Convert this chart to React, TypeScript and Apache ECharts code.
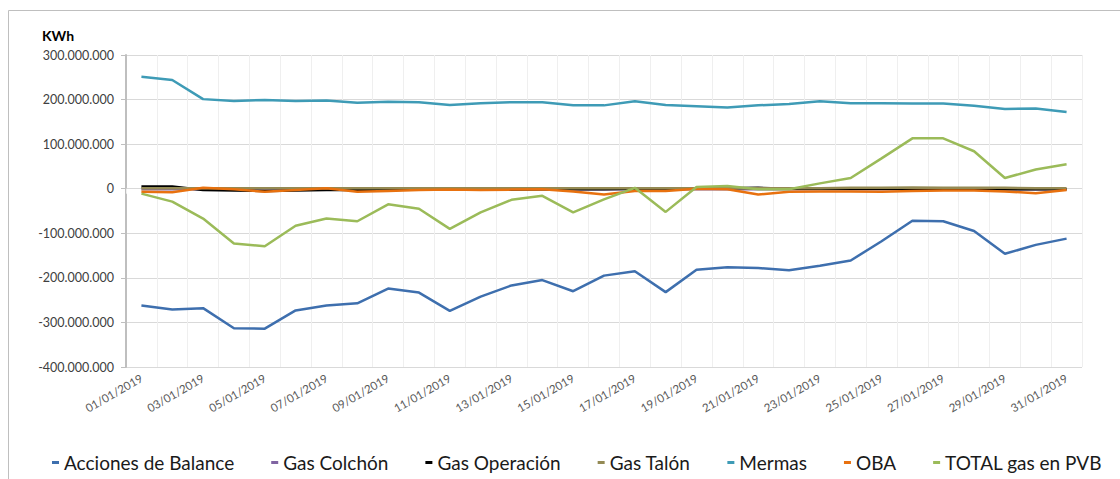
import React, { useEffect, useRef } from "react";
import * as echarts from "echarts";

const days: string[] = Array.from({ length: 31 }, (_, i) =>
  `${String(i + 1).padStart(2, "0")}/01/2019`
);

// values in millions of kWh
const accionesDeBalance = [-262, -271, -268, -313, -314, -273, -262, -257, -224, -233, -274, -242, -217, -205, -230, -195, -185, -232, -182, -176, -178, -183, -173, -161, -118, -72, -73, -95, -146, -126, -112];
const gasColchon = [-1, -1, -1, -1, -1, -1, -1, -1, -1, -1, -1, -1, -1, -1, -1, -1, -1, -1, -1, -1, -1, -1, -1, -1, -1, -1, -1, -1, -1, -1, -1];
const gasOperacion = [5, 5, -3, -4, -5, -4, -3, -3, -3, -2, -2, -2, -2, -1, -1, -1, 0, 0, 0, 1, 2, 0, 0, 0, 0, 0, 0, 0, -1, -1, -1];
const gasTalon = [1, 1, 1, 1, 1, 1, 1, 1, 1, 1, 1, 1, 1, 1, 1, 1, 1, 1, 1, 1, 1, 1, 1, 2, 2, 3, 2, 2, 2, 1, 1];
const mermas = [251, 244, 201, 197, 199, 197, 198, 193, 195, 194, 188, 192, 194, 194, 187, 187, 196, 188, 185, 182, 187, 190, 196, 192, 192, 191, 191, 186, 179, 180, 172];
const oba = [-7, -8, 2, -1, -7, -3, 1, -7, -5, -3, -2, -3, -2, -1, -6, -13, -5, -5, 0, -1, -13, -7, -6, -6, -7, -5, -4, -4, -6, -10, -3];
const totalGasPVB = [-11, -29, -67, -123, -129, -83, -67, -73, -35, -45, -90, -53, -25, -16, -53, -24, 2, -52, 4, 6, -1, -1, 12, 24, 68, 113, 113, 84, 24, 43, 55];

const seriesDefs = [
  { name: "Acciones de Balance", data: accionesDeBalance, color: "#3E6FAE" },
  { name: "Gas Colchón", data: gasColchon, color: "#8064A2" },
  { name: "Gas Operación", data: gasOperacion, color: "#000000" },
  { name: "Gas Talón", data: gasTalon, color: "#948A54" },
  { name: "Mermas", data: mermas, color: "#3E9BB6" },
  { name: "OBA", data: oba, color: "#E8710F" },
  { name: "TOTAL gas en PVB", data: totalGasPVB, color: "#9BBB59" },
];

const fmt = (v: number) =>
  String(Math.round(v)).replace(/\B(?=(\d{3})+(?!\d))/g, ".");

export default function App() {
  const ref = useRef<HTMLDivElement>(null);
  useEffect(() => {
    if (!ref.current) return;
    const chart = echarts.init(ref.current, null, { renderer: "svg" });
    const font = "Lato, 'Liberation Sans', Arial, sans-serif";
    chart.setOption({
      animation: false,
      textStyle: { fontFamily: font },
      graphic: [
        {
          type: "rect",
          shape: { x: 8.5, y: 10.5, width: 1200, height: 600 },
          style: { fill: "none", stroke: "#bfbfbf", lineWidth: 1 },
          silent: true,
        },
      ],
      title: {
        text: "KWh",
        left: 37,
        top: 23,
        textStyle: { fontSize: 14, fontWeight: "bold", color: "#000", fontFamily: font },
      },
      grid: { left: 126, right: 38, top: 55, bottom: 112, containLabel: false },
      legend: {
        left: 47,
        right: 0,
        top: 448,
        icon: "rect",
        itemWidth: 7,
        itemHeight: 3,
        itemGap: 37,
        textStyle: { fontSize: 19, color: "#1a1a1a", fontFamily: font },
        data: seriesDefs.map((s) => s.name),
      },
      xAxis: {
        type: "category",
        data: days,
        boundaryGap: true,
        axisLine: { show: false },
        axisTick: { show: true, interval: 0, length: 5, lineStyle: { color: "#efefef" } },
        axisLabel: {
          interval: 1,
          rotate: 30,
          fontSize: 11.5,
          color: "#595959",
          fontFamily: font,
          margin: 10,
        },
        splitLine: { show: true, interval: 0, lineStyle: { color: "#efefef", width: 1 } },
      },
      yAxis: {
        type: "value",
        min: -400000000,
        max: 300000000,
        interval: 100000000,
        axisLine: { show: true, lineStyle: { color: "#bfbfbf", width: 2 } },
        axisTick: { show: true, length: 5, lineStyle: { color: "#bfbfbf" } },
        axisLabel: { fontSize: 12.5, color: "#404040", fontFamily: font, margin: 12, formatter: (v: number) => fmt(v) },
        splitLine: { show: true, lineStyle: { color: "#d9d9d9", width: 1 } },
      },
      series: seriesDefs.map((s) => ({
        name: s.name,
        type: "line",
        data: s.data.map((v) => v * 1000000),
        showSymbol: false,
        symbol: "none",
        lineStyle: { color: s.color, width: 2.5 },
        itemStyle: { color: s.color },
        emphasis: { disabled: true },
      })),
    });
    return () => chart.dispose();
  }, []);
  return (
    <div
      ref={ref}
      style={{ position: "absolute", left: 0, top: 0, width: 1120, height: 479, background: "#fff" }}
    />
  );
}
